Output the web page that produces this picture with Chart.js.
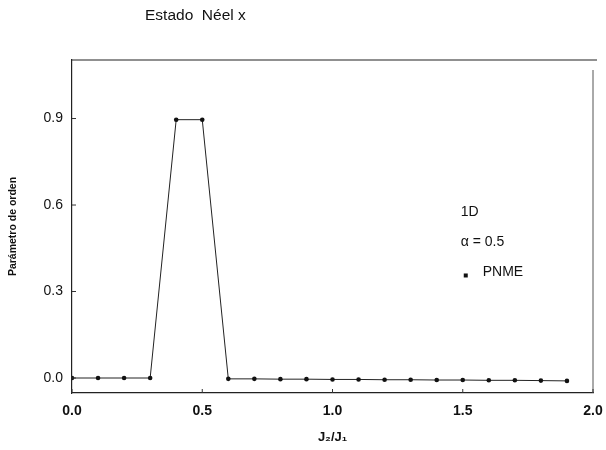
<!DOCTYPE html>
<html>
<head>
<meta charset="utf-8">
<script src="https://cdn.jsdelivr.net/npm/chart.js@4.4.1/dist/chart.umd.min.js"></script>
<style>
  html, body { margin: 0; padding: 0; background: #fff; }
  #wrap { width: 606px; height: 450px; }
</style>
</head>
<body>
<div id="wrap"><canvas id="neelChart" width="606" height="450"></canvas></div>
<script>
// J2/J1 values and order parameter (PNME)
const ratios = [0.0, 0.1, 0.2, 0.3, 0.4, 0.5, 0.6, 0.7, 0.8, 0.9, 1.0, 1.1, 1.2, 1.3, 1.4, 1.5, 1.6, 1.7, 1.8, 1.9];
const orderParam = [0.0, 0.0, 0.0, 0.0, 0.896, 0.896, -0.003, -0.003, -0.004, -0.004, -0.005, -0.005, -0.006, -0.006, -0.007, -0.007, -0.008, -0.008, -0.009, -0.010];
const xTicks = [0.0, 0.5, 1.0, 1.5, 2.0];
const yTicks = [0.0, 0.3, 0.6, 0.9];
const noteLines = ["1D", "α = 0.5", "PNME"];

const points = ratios.map((r, i) => ({ x: r, y: orderParam[i] }));
const FONT = "'Liberation Sans', Arial, sans-serif";

// title, frame, inward ticks and the little legend text
const extras = {
  id: "extras",
  afterDraw(chart) {
    const ctx = chart.ctx;
    const a = chart.chartArea;
    const xs = chart.scales.x, ys = chart.scales.y;
    ctx.save();

    // top + right border
    ctx.strokeStyle = "#222";
    ctx.lineWidth = 1.2;
    ctx.beginPath();
    ctx.moveTo(a.left, a.top);
    ctx.lineTo(a.right + 4, a.top);
    ctx.stroke();
    ctx.strokeStyle = "#555";
    ctx.lineWidth = 1;
    ctx.beginPath();
    ctx.moveTo(a.right, a.top + 10);
    ctx.lineTo(a.right, a.bottom);
    ctx.stroke();

    // inward tick marks
    ctx.strokeStyle = "#333";
    ctx.beginPath();
    yTicks.forEach(v => {
      const y = ys.getPixelForValue(v);
      ctx.moveTo(a.left, y);
      ctx.lineTo(a.left + 4, y);
    });
    xTicks.forEach(v => {
      const x = xs.getPixelForValue(v);
      ctx.moveTo(x, a.bottom);
      ctx.lineTo(x, a.bottom - 4);
    });
    ctx.stroke();

    // title
    ctx.fillStyle = "#111";
    ctx.font = "15.5px " + FONT;
    ctx.textAlign = "left";
    ctx.textBaseline = "middle";
    ctx.fillText("Estado  Néel x", 145, 16);

    // legend notes
    const lx = xs.getPixelForValue(1.5);
    ctx.font = "14px " + FONT;
    ctx.fillText(noteLines[0], lx - 2, ys.getPixelForValue(0.575));
    ctx.fillText(noteLines[1], lx - 2, ys.getPixelForValue(0.47));
    const py = ys.getPixelForValue(0.366);
    ctx.fillRect(lx + 1, py + 1, 4, 4);
    ctx.fillText(noteLines[2], lx + 20, py);

    ctx.restore();
  }
};

new Chart("neelChart", {
  type: "line",
  data: {
    datasets: [{
      data: points,
      borderColor: "#222",
      borderWidth: 1,
      backgroundColor: "#111",
      pointRadius: 2.3,
      pointBorderWidth: 0,
      tension: 0
    }]
  },
  options: {
    responsive: false,
    animation: false,
    layout: { padding: { top: 60, right: 13, left: 0, bottom: 0 } },
    plugins: {
      legend: { display: false },
      tooltip: { enabled: false }
    },
    scales: {
      x: {
        type: "linear",
        min: 0,
        max: 2,
        afterBuildTicks: s => { s.ticks = xTicks.map(v => ({ value: v })); },
        afterFit: s => { s.height = 57; s.paddingLeft = 0; s.paddingRight = 0; },
        grid: { display: false, drawTicks: false },
        border: { display: true, color: "#222", width: 1.2 },
        ticks: {
          padding: 10,
          color: "#111",
          font: { family: FONT, size: 14, weight: "bold" },
          callback: v => v.toFixed(1)
        },
        title: {
          display: true,
          text: "J₂/J₁",
          color: "#111",
          font: { family: FONT, size: 13, weight: "bold" },
          padding: { top: 0, bottom: 5 }
        }
      },
      y: {
        min: -0.052,
        max: 1.103,
        afterBuildTicks: s => { s.ticks = yTicks.map(v => ({ value: v })); },
        afterFit: s => { s.width = 72; s.paddingTop = 0; s.paddingBottom = 0; },
        grid: { display: false, drawTicks: false },
        border: { display: true, color: "#222", width: 1.2 },
        ticks: {
          padding: 9,
          color: "#111",
          font: { family: FONT, size: 14 },
          callback: v => v.toFixed(1)
        },
        title: {
          display: true,
          text: "Parámetro de orden",
          color: "#111",
          font: { family: FONT, size: 10.5, weight: "bold" },
          padding: { top: 7, bottom: 0 }
        }
      }
    }
  },
  plugins: [extras]
});
</script>
</body>
</html>
